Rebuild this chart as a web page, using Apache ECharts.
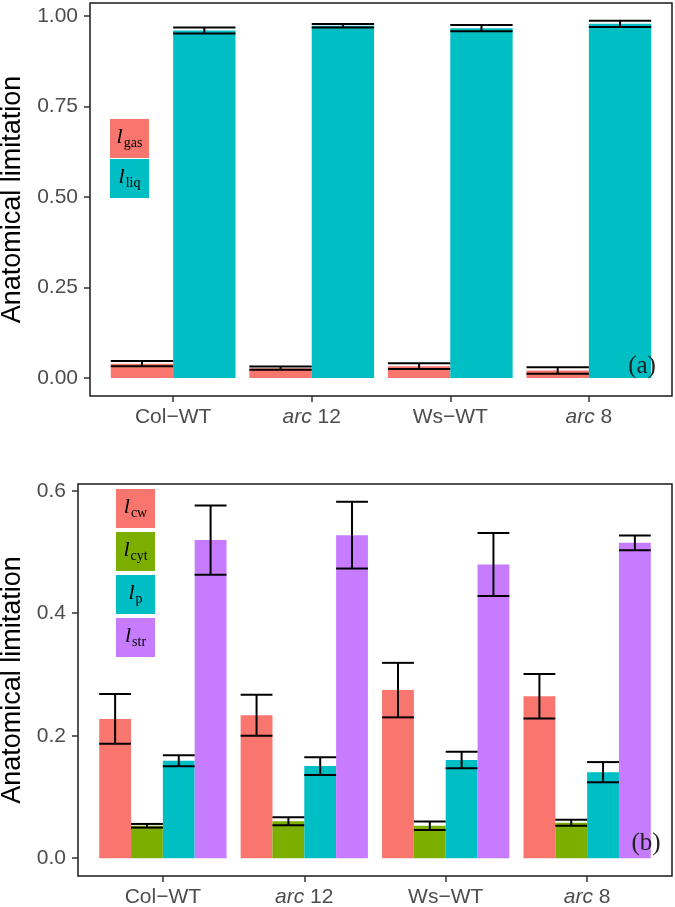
<!DOCTYPE html>
<html>
<head>
<meta charset="utf-8">
<script src="https://cdn.jsdelivr.net/npm/echarts@6/dist/echarts.min.js"></script>
<style>
  html, body { margin: 0; padding: 0; background: #fff; }
  #main { width: 675px; height: 907px; }
</style>
</head>
<body>
<div id="main"></div>
<script>
// categories (x axis)
var groupLabels = ['Col−WT', '{i|arc} 12', 'Ws−WT', '{i|arc} 8'];

// panel (a): gas / liquid phase limitation, mean and half error bar
var gasMean = [0.040, 0.0275, 0.033, 0.021];
var gasErr  = [0.007, 0.0045, 0.008, 0.009];
var liqMean = [0.960, 0.973, 0.9665, 0.9785];
var liqErr  = [0.008, 0.005, 0.0085, 0.0085];

// panel (b): cell wall / cytosol / plasmalemma / stroma
var cwMean  = [0.2275, 0.2335, 0.2745, 0.2645];
var cwErr   = [0.0405, 0.0335, 0.0445, 0.0365];
var cytMean = [0.053, 0.0605, 0.053, 0.058];
var cytErr  = [0.003, 0.0065, 0.007, 0.0048];
var pMean   = [0.159, 0.1505, 0.1605, 0.1405];
var pErr    = [0.009, 0.0145, 0.0135, 0.0165];
var strMean = [0.5195, 0.5275, 0.4795, 0.515];
var strErr  = [0.0565, 0.0545, 0.0515, 0.012];

// tick values
var ticksA = [0, 0.25, 0.5, 0.75, 1];
var ticksB = [0, 0.2, 0.4, 0.6];
var groupTicks = [1, 2, 3, 4];

var RED = '#F8766D', GREEN = '#7CAE00', CYAN = '#00BFC4', PURPLE = '#C77CFF';

var chart = echarts.init(document.getElementById('main'));

function toData(means, errs) {
    return means.map(function (m, i) { return [i + 1, m, errs[i]]; });
}

// dodged bar, k-th of n inside each group (total width 0.9)
function barSeries(gi, k, n, means, errs, color) {
    return {
        type: 'custom',
        xAxisIndex: gi,
        yAxisIndex: gi,
        data: toData(means, errs),
        z: 2,
        renderItem: function (params, api) {
            var w = 0.9 / n;
            var left = api.value(0) - 0.45 + k * w;
            var p0 = api.coord([left, api.value(1)]);
            var p1 = api.coord([left + w, 0]);
            return {
                type: 'rect',
                shape: { x: p0[0], y: p0[1], width: p1[0] - p0[0], height: p1[1] - p0[1] },
                style: { fill: color }
            };
        }
    };
}

function errSeries(gi, k, n, means, errs) {
    return {
        type: 'custom',
        xAxisIndex: gi,
        yAxisIndex: gi,
        data: toData(means, errs),
        z: 5,
        renderItem: function (params, api) {
            var w = 0.9 / n;
            var left = api.value(0) - 0.45 + k * w;
            var mid = left + w / 2;
            var hi = api.value(1) + api.value(2), lo = api.value(1) - api.value(2);
            var a = api.coord([left, hi]), b = api.coord([left + w, hi]);
            var c = api.coord([left, lo]), d = api.coord([left + w, lo]);
            var m1 = api.coord([mid, hi]), m2 = api.coord([mid, lo]);
            var st = { stroke: '#000', lineWidth: 2 };
            return {
                type: 'group',
                children: [
                    { type: 'line', shape: { x1: a[0], y1: a[1], x2: b[0], y2: b[1] }, style: st },
                    { type: 'line', shape: { x1: c[0], y1: c[1], x2: d[0], y2: d[1] }, style: st },
                    { type: 'line', shape: { x1: m1[0], y1: m1[1], x2: m2[0], y2: m2[1] }, style: st }
                ]
            };
        }
    };
}

var sans = 'Liberation Sans, Arial, sans-serif';
var serif = 'Liberation Serif, Times New Roman, serif';

function xAxisOpt(gi) {
    return {
        gridIndex: gi,
        type: 'value',
        min: 0.4,
        max: 4.6,
        splitLine: { show: false },
        axisLine: { show: false, onZero: false },
        axisTick: { show: true, customValues: groupTicks, length: 6, lineStyle: { color: '#333', width: 1.5 } },
        axisLabel: {
            customValues: groupTicks,
            margin: 11,
            fontSize: 21,
            fontFamily: sans,
            color: '#4d4d4d',
            formatter: function (v) { return groupLabels[Math.round(v) - 1]; },
            rich: { i: { fontStyle: 'italic', fontSize: 21, fontFamily: sans, color: '#4d4d4d' } }
        }
    };
}

function yAxisOpt(gi, min, max, ticks, digits, gap) {
    return {
        gridIndex: gi,
        type: 'value',
        min: min,
        max: max,
        splitLine: { show: false },
        axisLine: { show: false, onZero: false },
        axisTick: { show: true, customValues: ticks, length: 6, lineStyle: { color: '#333', width: 1.5 } },
        axisLabel: {
            customValues: ticks,
            margin: 12,
            fontSize: 21,
            fontFamily: sans,
            color: '#4d4d4d',
            formatter: function (v) { return v.toFixed(digits); }
        },
        name: 'Anatomical limitation',
        nameLocation: 'middle',
        nameGap: gap,
        nameTextStyle: { fontSize: 27, fontFamily: sans, color: '#000' }
    };
}

// legend keys (text drawn over coloured squares, like the ggplot keys)
var legRich = {
    l: { fontFamily: serif, fontStyle: 'italic', fontSize: 22, lineHeight: 24, verticalAlign: 'middle', color: '#000' },
    s: { fontFamily: serif, fontSize: 14, lineHeight: 14, verticalAlign: 'middle', padding: [12, 0, 0, 1], color: '#000' }
};
function legendKey(x, y, size, color, sub) {
    return [
        { type: 'rect', shape: { x: x, y: y, width: size, height: size }, style: { fill: color }, z: 10 },
        {
            type: 'text', x: x + size / 2, y: y + size / 2 - 1, z: 11,
            style: { text: '{l|l}{s|' + sub + '}', rich: legRich, align: 'center', verticalAlign: 'middle' }
        }
    ];
}

var graphics = [].concat(
    legendKey(110, 119, 39, RED, 'gas'),
    legendKey(110, 159, 39, CYAN, 'liq'),
    legendKey(116, 489, 39, RED, 'cw'),
    legendKey(116, 532, 39, GREEN, 'cyt'),
    legendKey(116, 575, 39, CYAN, 'p'),
    legendKey(116, 618, 39, PURPLE, 'str'),
    [
        { type: 'text', x: 642, y: 366, z: 11, style: { text: '(a)', font: '25px ' + serif, fill: '#222', align: 'center', verticalAlign: 'middle' } },
        { type: 'text', x: 646, y: 843, z: 11, style: { text: '(b)', font: '25px ' + serif, fill: '#222', align: 'center', verticalAlign: 'middle' } }
    ]
);

var gridBase = { show: true, borderColor: '#1a1a1a', borderWidth: 1.5, backgroundColor: '#fff', containLabel: false, outerBoundsMode: 'none' };

var option = {
    animation: false,
    backgroundColor: '#fff',
    grid: [
        Object.assign({ left: 90, top: 3, width: 582, height: 393 }, gridBase),
        Object.assign({ left: 78, top: 484, width: 594, height: 392 }, gridBase)
    ],
    xAxis: [xAxisOpt(0), xAxisOpt(1)],
    yAxis: [
        yAxisOpt(0, -0.0494, 1.036, ticksA, 2, 60),
        yAxisOpt(1, -0.029, 0.611, ticksB, 1, 48)
    ],
    series: [
        barSeries(0, 0, 2, gasMean, gasErr, RED),
        barSeries(0, 1, 2, liqMean, liqErr, CYAN),
        errSeries(0, 0, 2, gasMean, gasErr),
        errSeries(0, 1, 2, liqMean, liqErr),
        barSeries(1, 0, 4, cwMean, cwErr, RED),
        barSeries(1, 1, 4, cytMean, cytErr, GREEN),
        barSeries(1, 2, 4, pMean, pErr, CYAN),
        barSeries(1, 3, 4, strMean, strErr, PURPLE),
        errSeries(1, 0, 4, cwMean, cwErr),
        errSeries(1, 1, 4, cytMean, cytErr),
        errSeries(1, 2, 4, pMean, pErr),
        errSeries(1, 3, 4, strMean, strErr)
    ],
    graphic: graphics
};

chart.setOption(option);
</script>
</body>
</html>
